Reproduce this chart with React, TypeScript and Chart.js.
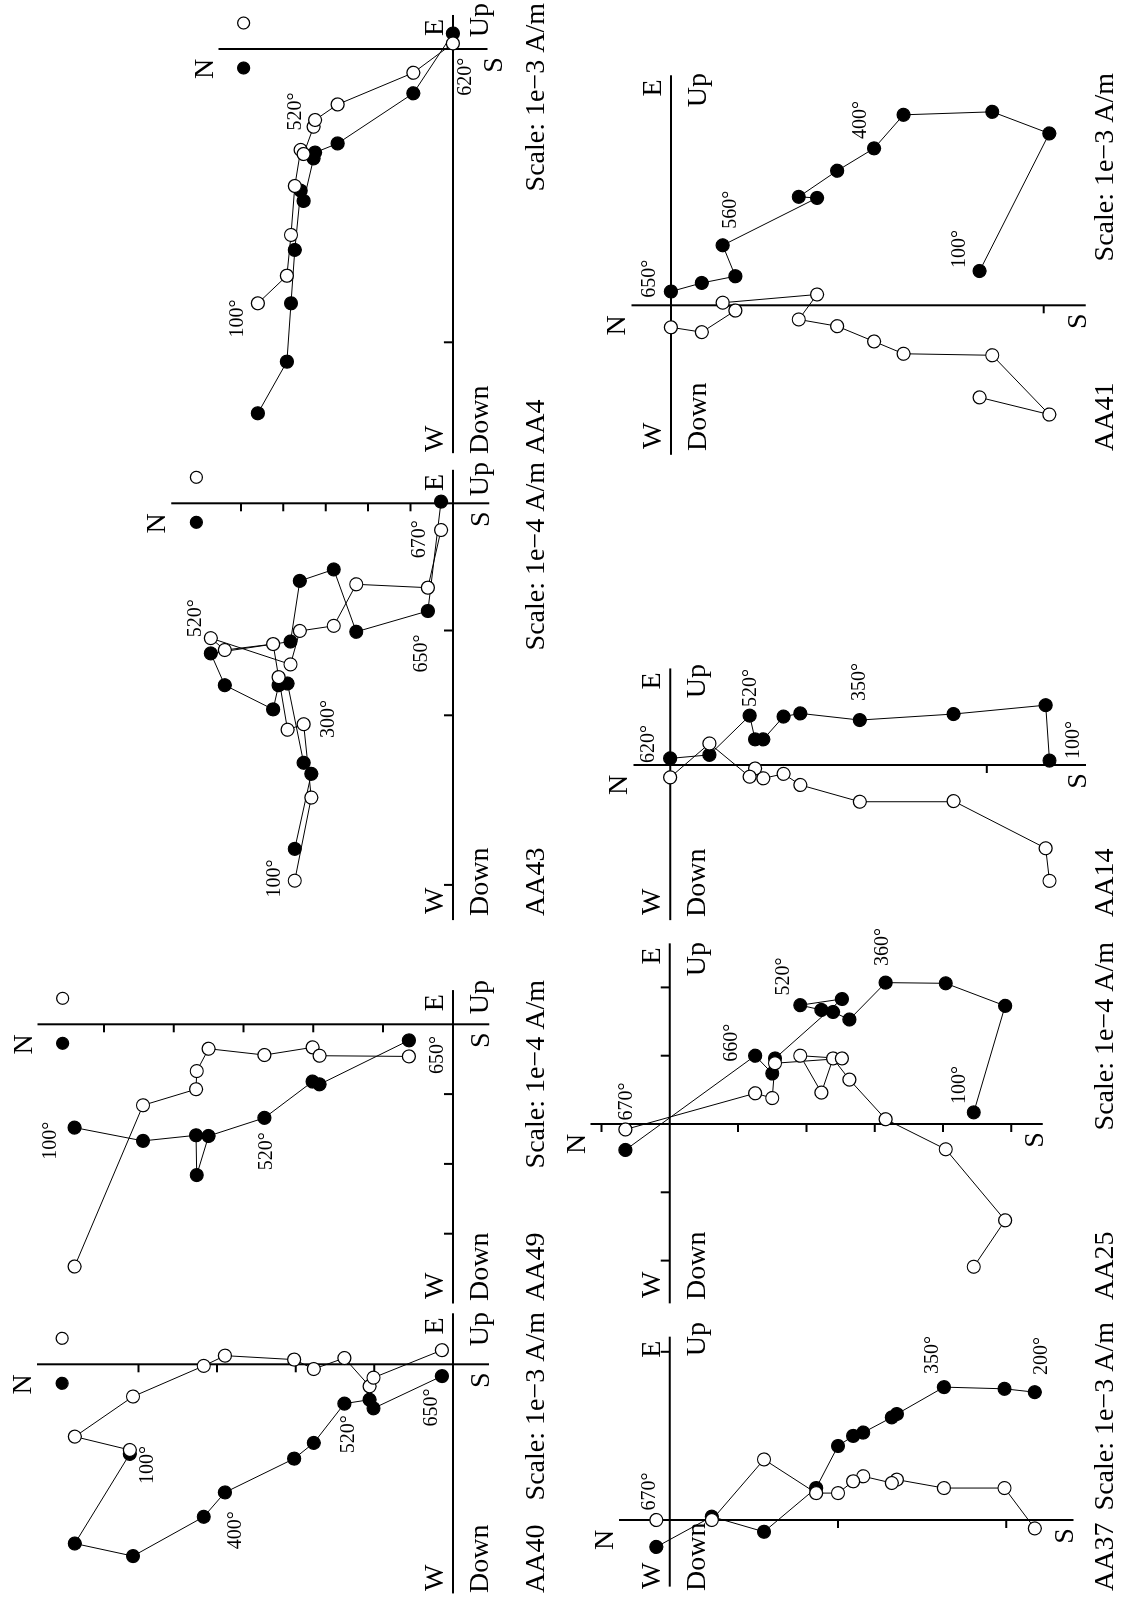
import React, { useEffect, useRef } from "react";
import { Chart, registerables } from "chart.js";

Chart.register(...registerables);

const FIG_W = 1599;
const FIG_H = 1121;
const FONT = '"Liberation Serif", "Times New Roman", Times, serif';

// ---------------- data (tick units; north shared by both projections) ----------------
// AA40
const aa40North = [4.11, 4.81, 4.07, 3.17, 2.9, 2.02, 1.77, 1.38, 1.06, 1.01, 0.14];
const aa40East = [-1.14, -2.28, -2.44, -1.94, -1.63, -1.2, -1.0, -0.5, -0.45, -0.56, -0.15];
const aa40Up = [-1.09, -0.92, -0.41, -0.02, 0.11, 0.06, -0.06, 0.08, -0.28, -0.17, 0.18];
const aa40Temps = ["100°", "400°", "520°", "650°"];
const aa40TicksN = [1, 2, 3, 4];
const aa40TicksE: number[] = [];

// AA49
const aa49North = [5.42, 4.44, 3.68, 3.67, 3.5, 2.7, 2.01, 1.91, 0.63];
const aa49East = [-1.48, -1.67, -1.59, -2.16, -1.6, -1.34, -0.82, -0.86, -0.23];
const aa49Up = [-3.47, -1.16, -0.93, -0.67, -0.35, -0.44, -0.33, -0.45, -0.46];
const aa49Temps = ["100°", "520°", "650°"];
const aa49TicksN = [1, 2, 3, 4, 5];
const aa49TicksE = [-1, -2, -3];

// AA43
const aa43North = [3.73, 3.34, 3.52, 3.9, 4.11, 4.24, 5.38, 5.71, 3.83, 3.61, 2.81, 2.28, 0.59, 0.28];
const aa43East = [-8.15, -6.38, -6.12, -4.25, -4.29, -4.86, -4.29, -3.54, -3.26, -1.83, -1.56, -3.03, -2.54, 0.04];
const aa43Up = [-8.9, -6.94, -5.21, -5.34, -4.1, -3.32, -3.46, -3.18, -3.8, -3.01, -2.89, -1.91, -1.99, -0.63];
const aa43Temps = ["100°", "300°", "520°", "650°", "670°"];
const aa43TicksN = [1, 2, 3, 4, 5];
const aa43TicksE = [-3, -5, -9];

// AA4
const aa4North = [0.665, 0.566, 0.552, 0.539, 0.519, 0.509, 0.475, 0.47, 0.393, 0.135, 0];
const aa4East = [-1.242, -1.066, -0.867, -0.685, -0.483, -0.518, -0.373, -0.353, -0.322, -0.151, 0.053];
const aa4Up = [-0.867, -0.773, -0.634, -0.467, -0.344, -0.358, -0.265, -0.242, -0.189, -0.081, 0.019];
const aa4Temps = ["100°", "520°", "620°"];
const aa4TicksN: number[] = [];
const aa4TicksE = [-1];

// AA37
const aa37North = [-2.17, -1.99, -1.63, -1.35, -1.32, -1.15, -1.09, -1.0, -0.87, -0.56, -0.25, 0.08];
const aa37East = [0.76, 0.78, 0.79, 0.63, 0.61, 0.52, 0.5, 0.44, 0.19, -0.07, 0.02, -0.16];
const aa37Up = [-0.05, 0.19, 0.19, 0.24, 0.22, 0.26, 0.23, 0.16, 0.16, 0.36, 0.0, 0.0];
const aa37Temps = ["200°", "350°", "670°"];
const aa37TicksN = [-1, -2];
const aa37TicksE = [1];

// AA25
const aa25North = [-4.45, -4.91, -4.04, -3.16, -2.63, -2.39, -2.22, -1.91, -2.52, -1.54, -1.5, -1.25, 0.65];
const aa25East = [0.17, 1.73, 2.06, 2.07, 1.53, 1.64, 1.67, 1.74, 1.83, 0.96, 0.74, 1.0, -0.38];
const aa25Up = [-2.09, -1.41, -0.37, 0.07, 0.65, 0.96, 0.46, 1.0, 0.96, 0.89, 0.38, 0.45, -0.08];
const aa25Temps = ["100°", "360°", "520°", "660°", "670°"];
const aa25TicksN = [1, -1, -2, -3, -4, -5];
const aa25TicksE = [2, 1, -1, -2];

// AA14
const aa14North = [-1.198, -1.186, -0.895, -0.599, -0.411, -0.358, -0.294, -0.268, -0.251, -0.124, 0];
const aa14East = [0.014, 0.189, 0.161, 0.142, 0.163, 0.153, 0.081, 0.081, 0.156, 0.032, 0.021];
const aa14Up = [-0.366, -0.263, -0.114, -0.116, -0.063, -0.028, -0.042, -0.011, -0.037, 0.068, -0.039];
const aa14Temps = ["100°", "350°", "520°", "620°"];
const aa14TicksN = [-1];
const aa14TicksE: number[] = [];

// AA41
const aa41North = [-0.828, -1.015, -0.862, -0.624, -0.545, -0.446, -0.343, -0.392, -0.139, -0.173, -0.083, 0];
const aa41East = [0.092, 0.461, 0.519, 0.511, 0.421, 0.361, 0.291, 0.288, 0.161, 0.078, 0.06, 0.037];
const aa41Up = [-0.247, -0.293, -0.134, -0.13, -0.097, -0.056, -0.038, 0.029, 0.007, -0.014, -0.072, -0.059];
const aa41Temps = ["100°", "400°", "560°", "650°"];
const aa41TicksN = [-1];
const aa41TicksE: number[] = [];

const SCALE_3 = "Scale: 1e\u22123 A/m";
const SCALE_4 = "Scale: 1e\u22124 A/m";

// ---------------- layout (landscape figure coordinates, px) ----------------
type Layout = {
  u0: number; v0: number; s: number;
  nRange: [number, number]; eRange: [number, number];
  textLeft: number; textRight: number; nameBase: number;
  legend: boolean; sShift?: number;
  tempPos: [number, number][];
};
type Panel = {
  name: string; scale: string | null;
  north: number[]; east: number[]; up: number[];
  temps: string[]; ticksN: number[]; ticksE: number[];
  layout: Layout;
};

const panels: Panel[] = [
  {
    name: "AA40", scale: SCALE_3, north: aa40North, east: aa40East, up: aa40Up,
    temps: aa40Temps, ticksN: aa40TicksN, ticksE: aa40TicksE,
    layout: { u0: 234.7, v0: 452.9, s: 78.6, nRange: [-0.46, 5.29], eRange: [-2.915, 0.649],
      textLeft: 6, textRight: 287, nameBase: 544, legend: true,
      tempPos: [[-1.28, 3.88], [-2.11, 2.76], [-0.89, 1.33], [-0.55, 0.27]] },
  },
  {
    name: "AA49", scale: SCALE_4, north: aa49North, east: aa49East, up: aa49Up,
    temps: aa49Temps, ticksN: aa49TicksN, ticksE: aa49TicksE,
    layout: { u0: 574.7, v0: 452.9, s: 69.8, nRange: [-0.52, 5.95], eRange: [-4.0, 0.49],
      textLeft: 298, textRight: 619, nameBase: 544, legend: true,
      tempPos: [[-1.67, 5.76], [-1.82, 2.66], [-0.44, 0.21]] },
  },
  {
    name: "AA43", scale: SCALE_4, north: aa43North, east: aa43East, up: aa43Up,
    temps: aa43Temps, ticksN: aa43TicksN, ticksE: aa43TicksE,
    layout: { u0: 1095.7, v0: 452.9, s: 42.4, nRange: [-0.86, 6.64], eRange: [-9.83, 0.79],
      textLeft: 683, textRight: 1137, nameBase: 544, legend: true,
      tempPos: [[-8.85, 4.2], [-5.09, 2.93], [-2.71, 6.07], [-3.54, 0.74], [-0.85, 0.78]] },
  },
  {
    name: "AA4", scale: SCALE_3, north: aa4North, east: aa4East, up: aa4Up,
    temps: aa4Temps, ticksN: aa4TicksN, ticksE: aa4TicksE,
    layout: { u0: 1550, v0: 452.9, s: 293.3, nRange: [-0.118, 0.799], eRange: [-1.378, 0.116],
      textLeft: 1145, textRight: 1596, nameBase: 544, legend: true, sShift: 14,
      tempPos: [[-0.919, 0.733], [-0.213, 0.537], [-0.095, -0.045]] },
  },
  {
    name: "AA37", scale: SCALE_3, north: aa37North, east: aa37East, up: aa37Up,
    temps: aa37Temps, ticksN: aa37TicksN, ticksE: aa37TicksE,
    layout: { u0: 79, v0: 669.8, s: 168.2, nRange: [-2.4, 0.302], eRange: [-0.396, 1.09],
      textLeft: 8, textRight: 277, nameBase: 1113, legend: false,
      tempPos: [[0.975, -2.213], [0.981, -1.565], [0.169, 0.118]] },
  },
  {
    name: "AA25", scale: SCALE_4, north: aa25North, east: aa25East, up: aa25Up,
    temps: aa25Temps, ticksN: aa25TicksN, ticksE: aa25TicksE,
    layout: { u0: 475, v0: 669.8, s: 68.3, nRange: [-5.46, 1.16], eRange: [-2.626, 2.645],
      textLeft: 299, textRight: 657, nameBase: 1113, legend: false,
      tempPos: [[0.57, -4.25], [2.59, -3.12], [2.16, -1.67], [1.19, -0.91], [0.33, 0.63]] },
  },
  {
    name: "AA14", scale: null, north: aa14North, east: aa14East, up: aa14Up,
    temps: aa14Temps, ticksN: aa14TicksN, ticksE: aa14TicksE,
    layout: { u0: 834, v0: 670.2, s: 316.6, nRange: [-1.313, 0.116], eRange: [-0.49, 0.305],
      textLeft: 682, textRight: 935, nameBase: 1113, legend: false,
      tempPos: [[0.079, -1.275], [0.262, -0.598], [0.243, -0.254], [0.066, 0.069]] },
  },
  {
    name: "AA41", scale: SCALE_3, north: aa41North, east: aa41East, up: aa41Up,
    temps: aa41Temps, ticksN: aa41TicksN, ticksE: aa41TicksE,
    layout: { u0: 1293.7, v0: 670.9, s: 372.8, nRange: [-1.113, 0.106], eRange: [-0.401, 0.617],
      textLeft: 1148, textRight: 1526, nameBase: 1113, legend: false,
      tempPos: [[0.151, -0.775], [0.497, -0.51], [0.256, -0.161], [0.071, 0.056]] },
  },
];

// ---------------- plugin: axes, ticks, labels ----------------
const zijPlugin = {
  id: "zijderveld",
  beforeDatasetsDraw(chart: any) {
    const ctx: CanvasRenderingContext2D = chart.ctx;
    panels.forEach((p, i) => {
      const xs = chart.scales["x" + i];
      const ys = chart.scales["y" + i];
      const X = (v: number) => xs.getPixelForValue(v);
      const Y = (v: number) => ys.getPixelForValue(v);
      const L = p.layout;
      const ox = X(0);
      const oy = Y(0);
      const top = Y(L.nRange[1]);
      const bottom = Y(L.nRange[0]);
      const left = X(L.eRange[0]);
      const right = X(L.eRange[1]);
      ctx.save();
      ctx.strokeStyle = "#000";
      ctx.fillStyle = "#000";
      ctx.lineWidth = 2;
      ctx.lineCap = "butt";
      ctx.beginPath();
      ctx.moveTo(ox, top);
      ctx.lineTo(ox, bottom);
      ctx.moveTo(left, oy);
      ctx.lineTo(right, oy);
      ctx.stroke();
      ctx.beginPath();
      p.ticksN.forEach((t) => {
        ctx.moveTo(ox, Y(t));
        ctx.lineTo(ox - 8, Y(t));
      });
      p.ticksE.forEach((t) => {
        ctx.moveTo(X(t), oy);
        ctx.lineTo(X(t), oy - 9);
      });
      ctx.stroke();

      // direction labels
      ctx.font = `28px ${FONT}`;
      ctx.textBaseline = "alphabetic";
      ctx.textAlign = "center";
      ctx.fillText("N", ox - 20, top - 6);
      ctx.fillText("S", ox - 16, bottom + (L.sShift || 0));
      ctx.textAlign = "left";
      ctx.fillText("W", L.textLeft + 2, oy - 10);
      ctx.fillText("Down", L.textLeft, oy + 35);
      ctx.fillText(p.name, L.textLeft, L.nameBase);
      ctx.textAlign = "right";
      ctx.fillText("E", right - 4, oy - 10);
      ctx.fillText("Up", L.textRight, oy + 35);
      if (p.scale) ctx.fillText(p.scale, L.textRight, L.nameBase);

      // temperature labels
      ctx.font = `20px ${FONT}`;
      ctx.textAlign = "center";
      ctx.textBaseline = "middle";
      p.temps.forEach((t, k) => {
        const pos = L.tempPos[k];
        ctx.fillText(t, X(pos[0]), Y(pos[1]));
      });

      // projection key markers
      if (L.legend) {
        const ly = top + 25;
        ctx.lineWidth = 1.2;
        ctx.beginPath();
        ctx.arc(ox - 19, ly, 6, 0, Math.PI * 2);
        ctx.fillStyle = "#000";
        ctx.fill();
        ctx.stroke();
        ctx.beginPath();
        ctx.arc(ox + 26, ly, 6, 0, Math.PI * 2);
        ctx.fillStyle = "#fff";
        ctx.fill();
        ctx.stroke();
      }
      ctx.restore();
    });
  },
};

function buildConfig(): any {
  const scales: any = {};
  const datasets: any[] = [];
  panels.forEach((p, i) => {
    const L = p.layout;
    scales["x" + i] = {
      type: "linear", axis: "x", position: "bottom", display: false, bounds: "data", grace: 0,
      min: -L.u0 / L.s, max: (FIG_W - L.u0) / L.s,
    };
    scales["y" + i] = {
      type: "linear", axis: "y", position: "left", display: false, bounds: "data", grace: 0,
      min: (L.v0 - FIG_H) / L.s, max: L.v0 / L.s,
    };
    const common = {
      xAxisID: "x" + i, yAxisID: "y" + i, showLine: true, tension: 0,
      borderColor: "#000", borderWidth: 1, pointRadius: 6.5, pointHoverRadius: 6.5,
      pointBorderColor: "#000", pointBorderWidth: 1.2, clip: false,
    };
    datasets.push({
      ...common, label: p.name + " vertical (Up)", order: 0,
      data: p.up.map((u, k) => ({ x: u, y: p.north[k] })),
      pointBackgroundColor: "#fff", backgroundColor: "#fff",
    });
    datasets.push({
      ...common, label: p.name + " horizontal (E)", order: 1,
      data: p.east.map((e, k) => ({ x: e, y: p.north[k] })),
      pointBackgroundColor: "#000", backgroundColor: "#000",
    });
  });
  return {
    type: "scatter",
    data: { datasets },
    options: {
      animation: false,
      responsive: false,
      maintainAspectRatio: false,
      devicePixelRatio: 1,
      events: [],
      layout: { padding: 0, autoPadding: false },
      plugins: { legend: { display: false }, tooltip: { enabled: false }, title: { display: false } },
      scales,
    },
    plugins: [zijPlugin],
  };
}

export default function App() {
  const ref = useRef<HTMLCanvasElement | null>(null);
  useEffect(() => {
    document.body.style.overflow = "hidden";
    document.body.style.background = "#fff";
    const chart = new Chart(ref.current as HTMLCanvasElement, buildConfig());
    let alive = true;
    const fonts: any = (document as any).fonts;
    if (fonts && fonts.load) {
      Promise.all([
        fonts.load(`28px "Liberation Serif"`, "NSEWUpDownScale°0123456789"),
        fonts.load(`20px "Liberation Serif"`, "0123456789°"),
      ])
        .then(() => fonts.ready)
        .then(() => {
          if (alive) chart.draw();
        })
        .catch(() => {});
    }
    return () => {
      alive = false;
      chart.destroy();
    };
  }, []);
  return (
    <div
      style={{
        position: "absolute",
        left: 0,
        top: 0,
        width: FIG_W,
        height: FIG_H,
        background: "#fff",
        transformOrigin: "0 0",
        transform: `translateY(${FIG_W}px) rotate(-90deg)`,
      }}
    >
      <span
        style={{ position: "absolute", left: 0, top: 0, opacity: 0, fontFamily: FONT, fontSize: 28, pointerEvents: "none" }}
        aria-hidden="true"
      >
        NSEW Down Up 100°
      </span>
      <canvas ref={ref} width={FIG_W} height={FIG_H} style={{ display: "block", width: FIG_W, height: FIG_H }} />
    </div>
  );
}
